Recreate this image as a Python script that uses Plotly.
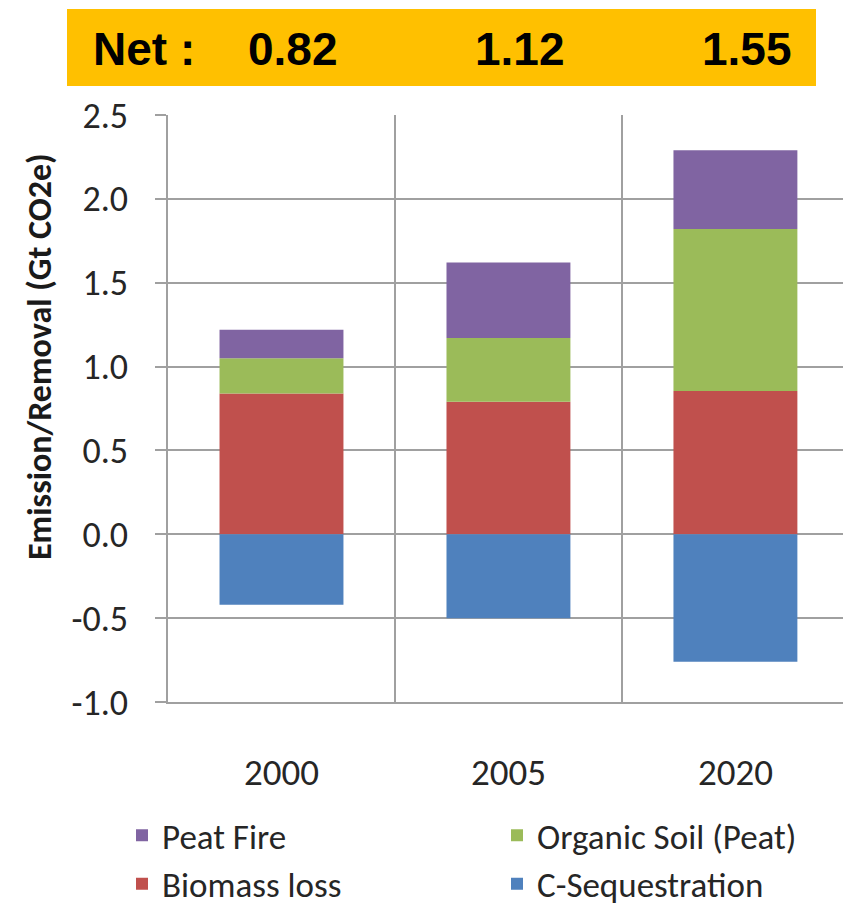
import plotly.graph_objects as go

years = ["2000", "2005", "2020"]
biomass_loss = [0.84, 0.79, 0.855]
organic_soil = [0.21, 0.38, 0.965]
peat_fire = [0.17, 0.45, 0.47]
c_sequestration = [-0.42, -0.50, -0.76]
net_values = ["0.82", "1.12", "1.55"]
y_tick_values = [-1.0, -0.5, 0.0, 0.5, 1.0, 1.5, 2.0, 2.5]
y_tick_labels = ["-1.0", "-0.5", "0.0", "0.5", "1.0", "1.5", "2.0", "2.5"]

W, H = 843, 906
L, R, T, B = 168, 0, 115, 204
PW, PH = W - L - R, H - T - B

def px(x):
    return (x - L) / PW

def py(y):
    return (H - B - y) / PH

FONT = "Carlito, Lato, sans-serif"
GRID = "#a0a0a0"

fig = go.Figure()
series = [
    ("Biomass loss", biomass_loss, "#C0504D", 3),
    ("Organic Soil (Peat)", organic_soil, "#9BBB59", 2),
    ("Peat Fire", peat_fire, "#8064A2", 1),
    ("C-Sequestration", c_sequestration, "#4F81BD", 4),
]
for name, vals, col, rank in series:
    fig.add_trace(go.Bar(x=years, y=vals, name=name, marker_color=col,
                         marker_line_width=0, legendrank=rank))

fig.update_layout(
    width=W, height=H, barmode="relative", bargap=0.454,
    margin=dict(l=L, r=R, t=T, b=B, pad=0, autoexpand=False),
    plot_bgcolor="white", paper_bgcolor="white",
    font=dict(family=FONT, color="#333333"),
    legend=dict(orientation="h", traceorder="normal", font=dict(size=35, color="#262626"),
                entrywidth=330, entrywidthmode="pixels",
                x=px(122), xanchor="left", y=py(806), yanchor="top",
                bgcolor="rgba(0,0,0,0)"),
)
fig.update_xaxes(type="category", range=[-0.5, 2.474], tickson="boundaries",
                 showgrid=True, gridcolor=GRID, gridwidth=1.5, ticks="",
                 showline=True, linecolor=GRID, linewidth=1.5,
                 tickfont=dict(size=37, color="#262626"), ticklabelstandoff=37)
fig.update_yaxes(range=[-1.0, 2.5], tickvals=y_tick_values, ticktext=y_tick_labels,
                 ticks="outside", ticklen=11, tickwidth=1.5, tickcolor=GRID,
                 showgrid=True, gridcolor=GRID, gridwidth=1.5, zeroline=False,
                 showline=True, linecolor=GRID, linewidth=1.5,
                 tickfont=dict(size=36, color="#262626"), ticklabelstandoff=20)

# Y-axis title
fig.add_annotation(text="<b>Emission/Removal (Gt CO2e)</b>", xref="paper", yref="paper",
                   x=px(39), y=py(357), textangle=-90, showarrow=False,
                   xanchor="center", yanchor="middle",
                   font=dict(size=34, color="#1a1a1a", family=FONT))

# Net banner
fig.add_shape(type="rect", xref="paper", yref="paper",
              x0=px(67), x1=px(816), y0=py(86), y1=py(9),
              fillcolor="#FFC000", line_width=0, layer="above")
BFONT = dict(family="Liberation Sans, Arial, sans-serif", size=46, color="black")
fig.add_annotation(text="<b>Net :</b>", xref="paper", yref="paper", x=px(91), y=py(49),
                   xanchor="left", yanchor="middle", showarrow=False, font=BFONT)
for i, nv in enumerate(net_values):
    fig.add_annotation(text=f"<b>{nv}</b>", xref="x", yref="paper", x=i, y=py(49),
                       xshift=12, xanchor="center", yanchor="middle",
                       showarrow=False, font=BFONT)

fig.write_html("out.html", config={"displayModeBar": False},
               post_script="document.body.style.margin='0';document.body.style.overflow='hidden';")
